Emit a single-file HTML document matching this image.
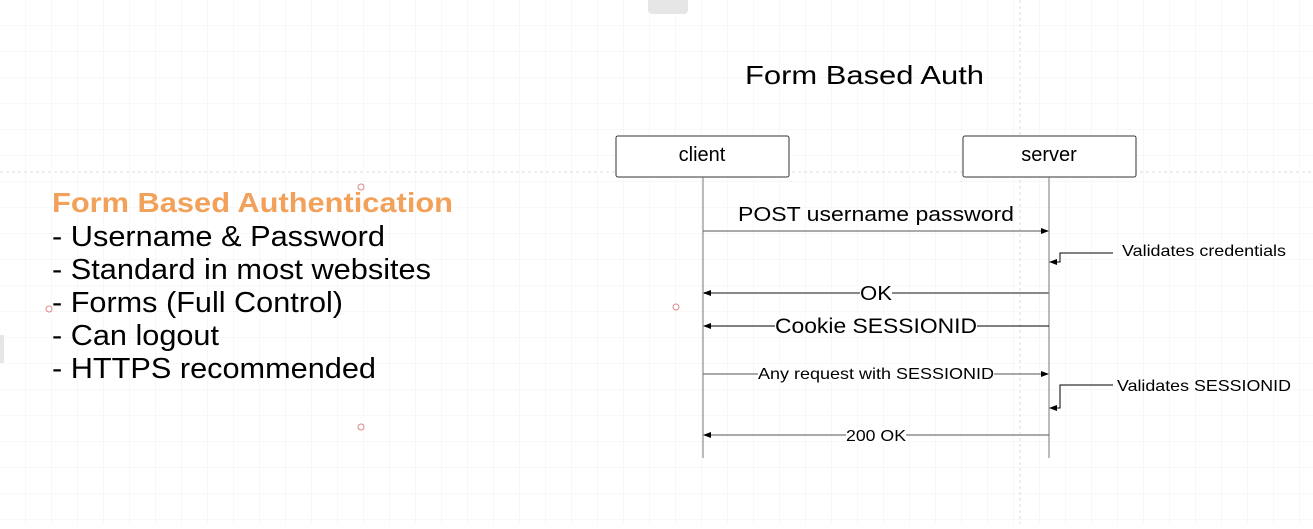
<!DOCTYPE html>
<html><head><style>
body{margin:0;width:1313px;height:524px;overflow:hidden;background:#fff;font-family:"Liberation Sans",sans-serif}
</style></head><body>
<svg width="1313" height="524" xmlns="http://www.w3.org/2000/svg" font-family="Liberation Sans, sans-serif">
<defs>
<pattern id="g" width="26" height="26" patternUnits="userSpaceOnUse"><path d="M26 0V26H0" fill="none" stroke="#f0f0f0" stroke-width="1"/></pattern>
<marker id="a" markerWidth="8" markerHeight="8" refX="7" refY="4" orient="auto" markerUnits="userSpaceOnUse"><path d="M0,1L8,4L0,7z" fill="#000"/></marker>
</defs>
<rect width="1313" height="524" fill="url(#g)"/>
<line x1="0" y1="172" x2="1313" y2="172" stroke="#ddd" stroke-dasharray="3,3"/>
<line x1="1020" y1="0" x2="1020" y2="524" stroke="#ddd" stroke-dasharray="3,3"/>
<rect x="648" y="-6" width="40" height="20" rx="4" fill="#e6e6e6"/>
<rect x="0" y="335" width="4" height="28" fill="#e6e6e6"/>
<text x="745" y="84" font-size="26" textLength="239" lengthAdjust="spacingAndGlyphs">Form Based Auth</text>
<rect x="616" y="136" width="173" height="41" rx="2" fill="#fff" stroke="#333"/>
<text x="702" y="161" font-size="20" text-anchor="middle">client</text>
<rect x="963" y="136" width="173" height="41" rx="2" fill="#fff" stroke="#333"/>
<text x="1049" y="161" font-size="20" text-anchor="middle">server</text>
<line x1="703" y1="177" x2="703" y2="458" stroke="#777"/>
<line x1="1049" y1="177" x2="1049" y2="458" stroke="#777"/>
<g stroke="#555" fill="none">
<line x1="703" y1="231" x2="1048" y2="231" marker-end="url(#a)"/>
<path d="M1113 253H1060V262H1050" marker-end="url(#a)" stroke="#000"/>
<line x1="1049" y1="293" x2="704" y2="293" marker-end="url(#a)" stroke-width="2" stroke="#888"/>
<line x1="1049" y1="326" x2="704" y2="326" marker-end="url(#a)" stroke="#000"/>
<line x1="703" y1="374" x2="1048" y2="374" marker-end="url(#a)"/>
<path d="M1113 385H1060V408H1050" marker-end="url(#a)" stroke="#000"/>
<line x1="1049" y1="435" x2="704" y2="435" marker-end="url(#a)"/>
</g>
<text x="738" y="221" font-size="20" textLength="276" lengthAdjust="spacingAndGlyphs">POST username password</text>
<rect x="860" y="284" width="32" height="18" fill="#fff"/><text x="860" y="300" font-size="20" textLength="32" lengthAdjust="spacingAndGlyphs">OK</text>
<rect x="775" y="316" width="202" height="20" fill="#fff"/><text x="775" y="333" font-size="21" textLength="202" lengthAdjust="spacingAndGlyphs">Cookie SESSIONID</text>
<rect x="758" y="366" width="236" height="16" fill="#fff"/><text x="758" y="379" font-size="16" textLength="236" lengthAdjust="spacingAndGlyphs">Any request with SESSIONID</text>
<rect x="846" y="427" width="60" height="16" fill="#fff"/><text x="846" y="441" font-size="16" textLength="60" lengthAdjust="spacingAndGlyphs">200 OK</text>
<text x="1122" y="256" font-size="16" textLength="164" lengthAdjust="spacingAndGlyphs">Validates credentials</text>
<text x="1117" y="391" font-size="16" textLength="174" lengthAdjust="spacingAndGlyphs">Validates SESSIONID</text>
<circle cx="361" cy="187" r="3" fill="none" stroke="#d88"/>
<circle cx="49" cy="309" r="3" fill="none" stroke="#d88"/>
<circle cx="676" cy="307" r="3" fill="none" stroke="#d88"/>
<circle cx="361" cy="427" r="3" fill="none" stroke="#d88"/>
<text x="52" y="212" font-size="28" font-weight="bold" fill="#f2a15a" textLength="401" lengthAdjust="spacingAndGlyphs">Form Based Authentication</text>
<g font-size="29" fill="#000" lengthAdjust="spacingAndGlyphs">
<text x="52" y="246" textLength="333" lengthAdjust="spacingAndGlyphs">- Username &amp; Password</text>
<text x="52" y="279" textLength="379" lengthAdjust="spacingAndGlyphs">- Standard in most websites</text>
<text x="52" y="312" textLength="291" lengthAdjust="spacingAndGlyphs">- Forms (Full Control)</text>
<text x="52" y="345" textLength="167" lengthAdjust="spacingAndGlyphs">- Can logout</text>
<text x="52" y="378" textLength="324" lengthAdjust="spacingAndGlyphs">- HTTPS recommended</text>
</g>
</svg>
</body></html>
